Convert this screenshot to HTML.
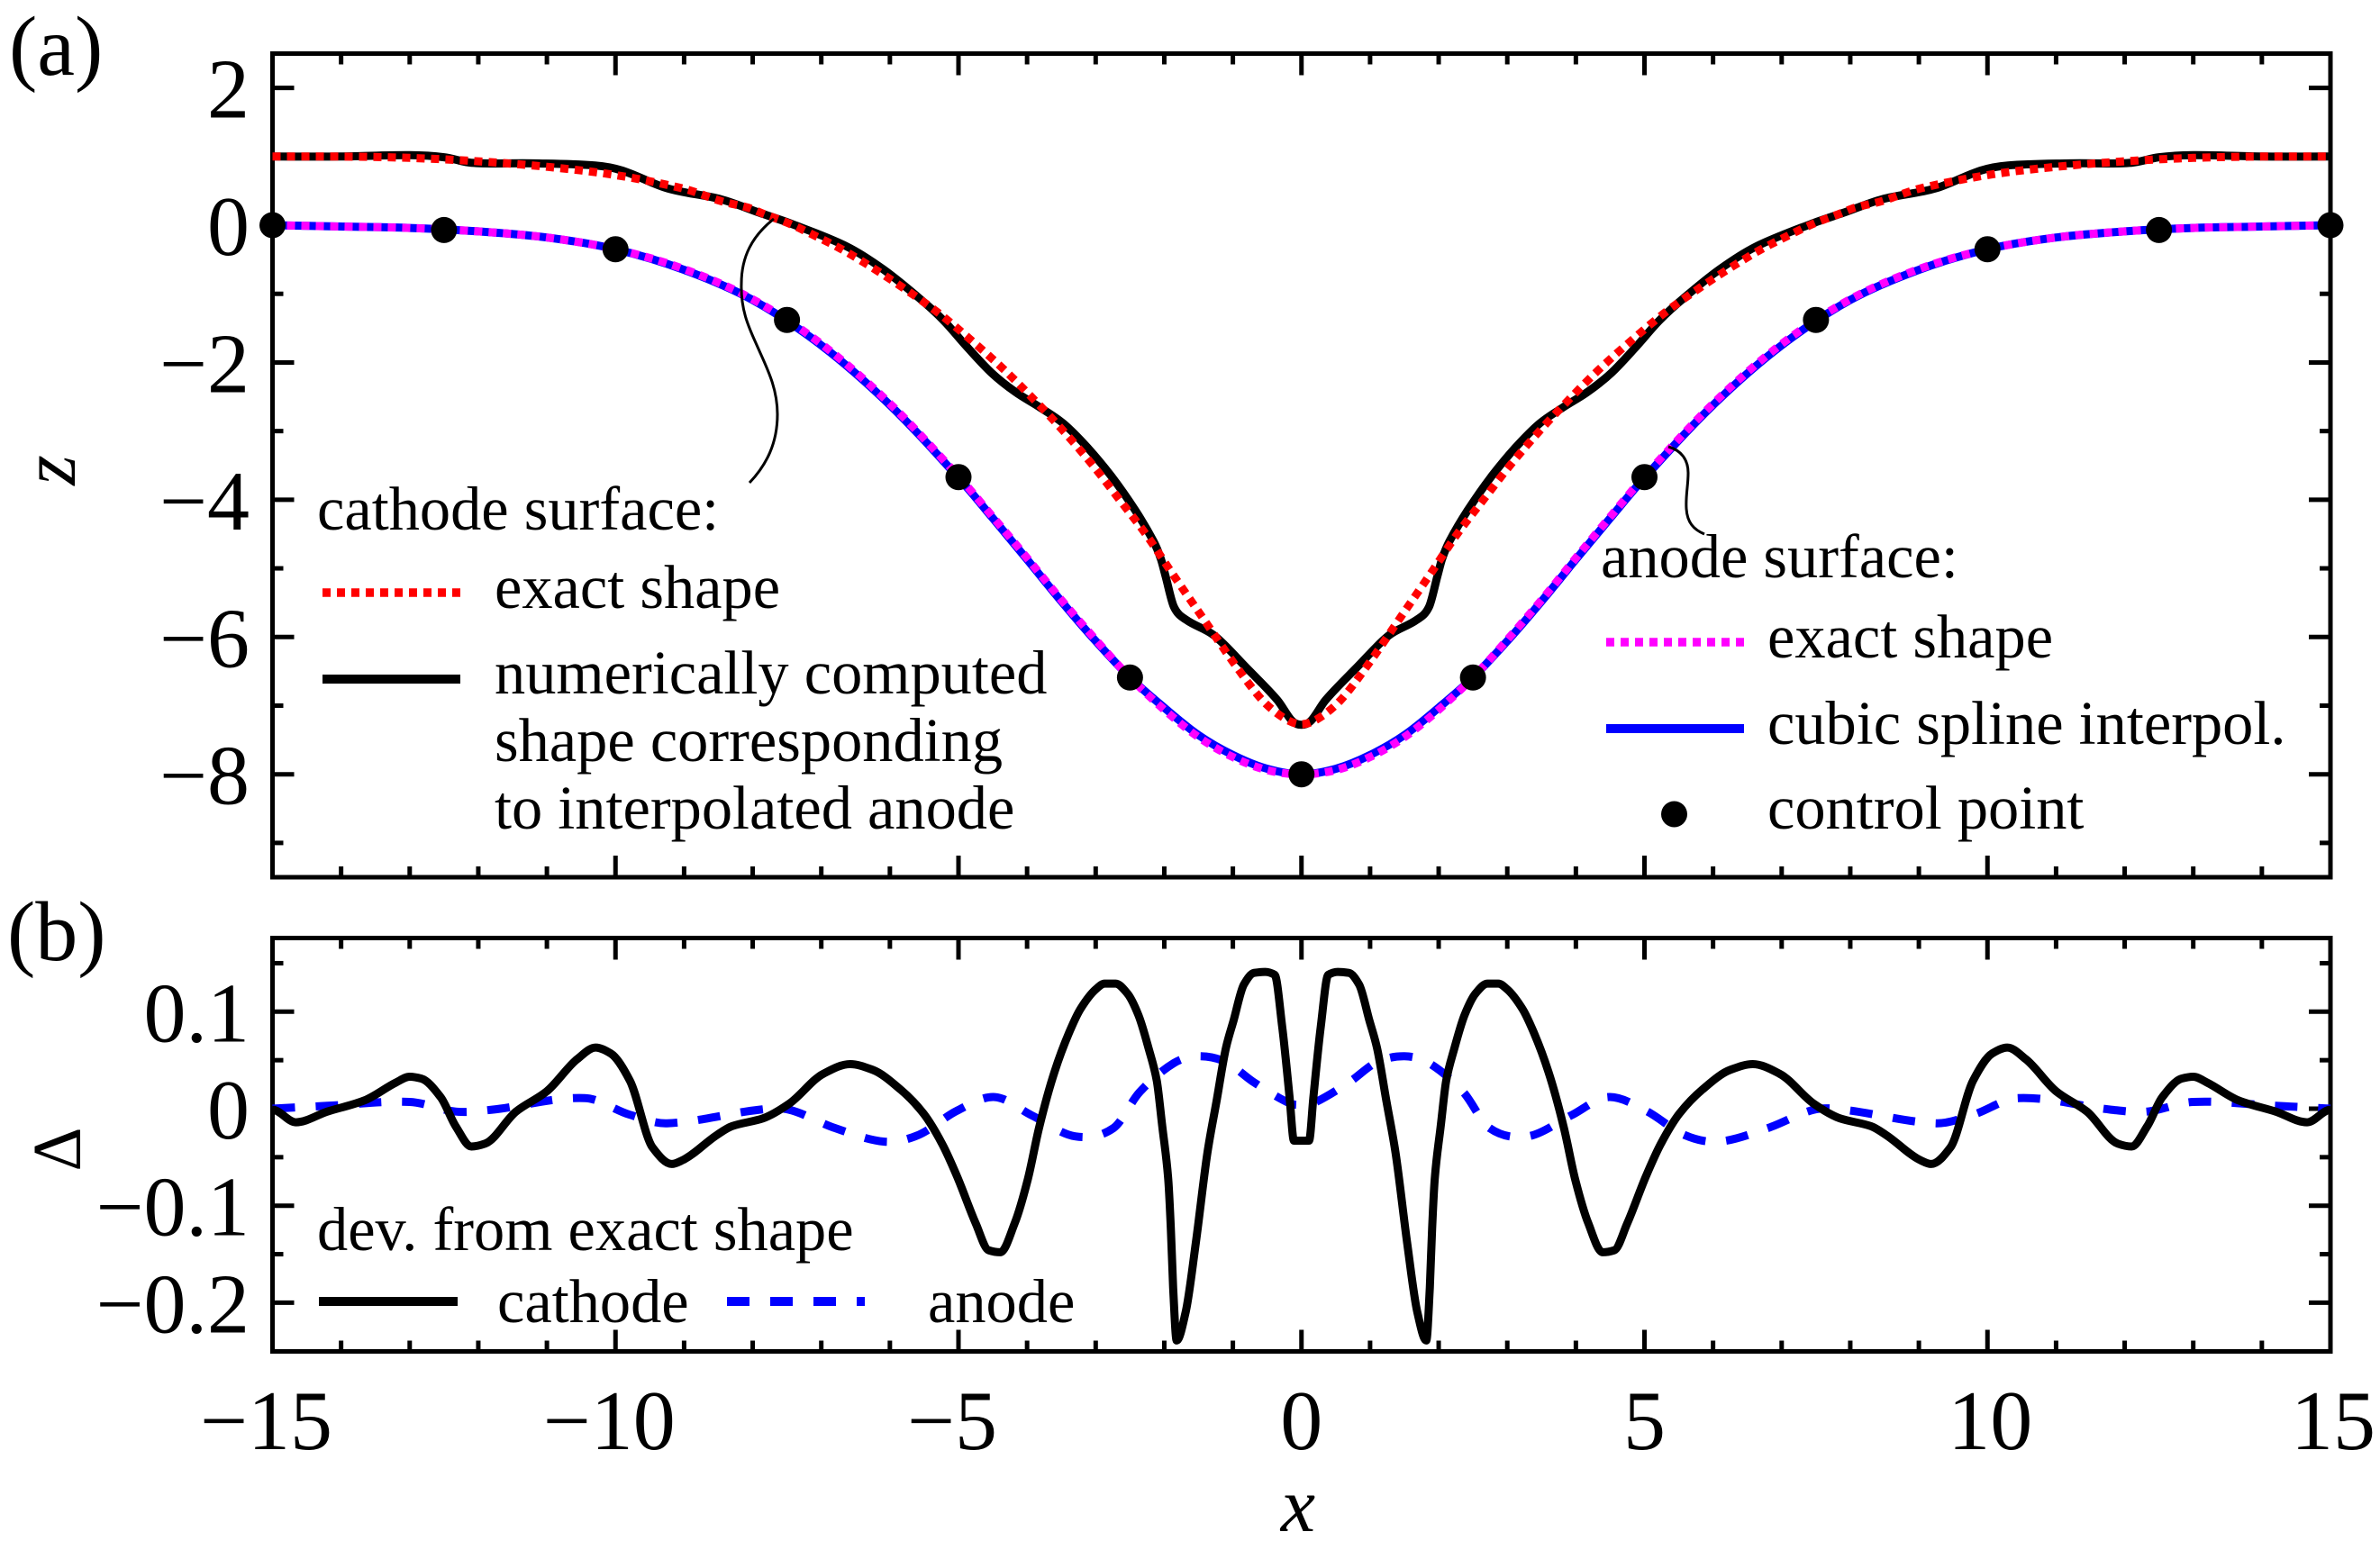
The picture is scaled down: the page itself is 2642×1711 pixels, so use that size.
<!DOCTYPE html>
<html lang="en">
<head>
<meta charset="utf-8">
<title>Cathode and anode surface shapes</title>
<style>
html,body{margin:0;padding:0;background:#fff;}
svg{display:block;}
text{font-family:"Liberation Serif","Times New Roman",serif;fill:#000;}
.tick{font-size:94px;}
.leg{font-size:68.4px;}
.panel{font-size:94px;}
.ital{font-style:italic;font-size:86px;}
</style>
</head>
<body>
<svg id="figure" xmlns="http://www.w3.org/2000/svg" width="2642" height="1711" viewBox="0 0 2642 1711">
  <rect width="2642" height="1711" fill="#fff"/>
  <g id="panelA"></g>
  <g id="panelB"></g>

  <text class="panel" x="10" y="83">(a)</text>
  <text class="panel" x="8" y="1066">(b)</text>
  <text class="ital" transform="translate(83,522) rotate(-90)" text-anchor="middle">z</text>
  <text transform="translate(89,1276) rotate(-90)" text-anchor="middle" style="font-size:76px">Δ</text>
  <text class="ital" x="1441" y="1700" text-anchor="middle">x</text>

  <path d="M859,243 C835,262 823,285 823,315 C822,345 832,365 840,383 C851,408 863,430 863,460 C863,492 851,516 832,536" fill="none" stroke="#000" stroke-width="3"/>
  <path d="M1852,496 C1866,500 1874,510 1874,525 C1874,540 1871,550 1872,565 C1873,580 1880,588 1892,593" fill="none" stroke="#000" stroke-width="3"/>

  <g>
    <text class="leg" x="352" y="588">cathode surface:</text>
    <line x1="358" x2="511" y1="658" y2="658" stroke="#f00" stroke-width="9.5" stroke-dasharray="9 7"/>
    <text class="leg" x="549" y="675">exact shape</text>
    <line x1="358" x2="511" y1="754" y2="754" stroke="#000" stroke-width="10"/>
    <text class="leg" x="549" y="770">numerically computed</text>
    <text class="leg" x="549" y="845">shape corresponding</text>
    <text class="leg" x="549" y="920">to interpolated anode</text>
  </g>

  <g>
    <text class="leg" x="1777" y="641">anode surface:</text>
    <line x1="1783" x2="1936" y1="713" y2="713" stroke="#f0f" stroke-width="9.5" stroke-dasharray="9 7"/>
    <text class="leg" x="1962" y="730">exact shape</text>
    <line x1="1783" x2="1936" y1="809" y2="809" stroke="#00f" stroke-width="10"/>
    <text class="leg" x="1962" y="826">cubic spline interpol.</text>
    <circle cx="1858.5" cy="904" r="14.5" fill="#000"/>
    <text class="leg" x="1962" y="920">control point</text>
  </g>

  <g>
    <text class="leg" x="352" y="1388">dev. from exact shape</text>
    <line x1="354" x2="508" y1="1445" y2="1445" stroke="#000" stroke-width="10"/>
    <text class="leg" x="552" y="1468">cathode</text>
    <line x1="807" x2="960" y1="1445" y2="1445" stroke="#00f" stroke-width="10" stroke-dasharray="25 23"/>
    <text class="leg" x="1030" y="1468">anode</text>
  </g>
</svg>

<script>
// ----- tick data -----
const xMajorTicks = [-15, -10, -5, 0, 5, 10, 15];
const xTickLabels = ["\u221215", "\u221210", "\u22125", "0", "5", "10", "15"];
const xMinorTicks = [-14,-13,-12,-11,-9,-8,-7,-6,-4,-3,-2,-1,1,2,3,4,6,7,8,9,11,12,13,14];
const zMajorTicks = [2, 0, -2, -4, -6, -8];
const zTickLabels = ["2", "0", "\u22122", "\u22124", "\u22126", "\u22128"];
const zMinorTicks = [1, -1, -3, -5, -7, -9];
const deltaMajorTicks = [0.1, 0, -0.1, -0.2];
const deltaTickLabels = ["0.1", "0", "\u22120.1", "\u22120.2"];
const deltaMinorTicks = [0.15, 0.05, -0.05, -0.15];

// ----- panel (a): anode surface -----
const anodeX = [-15,-14,-13,-12,-11,-10,-9,-8,-7,-6,-5,-4.5,-4,-3.5,-3,-2.5,-2,-1.5,-1,-0.5,0,0.5,1,1.5,2,2.5,3,3.5,4,4.5,5,6,7,8,9,10,11,12,13,14,15];
const anodeExactZ = [0,-0.02,-0.04,-0.09,-0.18,-0.35,-0.64,-1.08,-1.73,-2.60,-3.66,-4.25,-4.85,-5.46,-6.04,-6.59,-7.06,-7.46,-7.75,-7.94,-8,-7.94,-7.75,-7.46,-7.06,-6.59,-6.04,-5.46,-4.85,-4.25,-3.66,-2.60,-1.73,-1.08,-0.64,-0.35,-0.18,-0.09,-0.04,-0.02,0];
const anodeSplineZ = [0,-0.02,-0.04,-0.09,-0.18,-0.35,-0.65,-1.09,-1.75,-2.62,-3.68,-4.27,-4.87,-5.48,-6.06,-6.59,-7.03,-7.43,-7.72,-7.92,-8,-7.92,-7.72,-7.43,-7.03,-6.59,-6.06,-5.48,-4.87,-4.27,-3.68,-2.62,-1.75,-1.09,-0.65,-0.35,-0.18,-0.09,-0.04,-0.02,0];
const controlX = [-15,-12.5,-10,-7.5,-5,-2.5,0,2.5,5,7.5,10,12.5,15];
const controlZ = [0,-0.07,-0.35,-1.38,-3.67,-6.59,-8,-6.59,-3.67,-1.38,-0.35,-0.07,0];

// ----- panel (a): cathode surface -----
const cathodeExactX = [-15,-14,-13,-12,-11,-10,-9,-8.46,-8.07,-7.85,-7.46,-7.08,-6.71,-6.34,-5.81,-5.29,-4.81,-4.33,-3.89,-3.45,-3.04,-2.66,-2.27,-1.92,-1.44,-0.965,-0.57,-0.24,0,0.24,0.57,0.965,1.44,1.92,2.27,2.66,3.04,3.45,3.89,4.33,4.81,5.29,5.81,6.34,6.71,7.08,7.46,7.85,8.07,8.46,9,10,11,12,13,14,15];
const cathodeExactZ = [1,1,0.98,0.93,0.85,0.73,0.53,0.35,0.256,0.168,0.02,-0.16,-0.348,-0.567,-0.91,-1.28,-1.68,-2.11,-2.55,-3.02,-3.5,-3.99,-4.5,-5.02,-5.72,-6.41,-6.92,-7.19,-7.27,-7.19,-6.92,-6.41,-5.72,-5.02,-4.5,-3.99,-3.5,-3.02,-2.55,-2.11,-1.68,-1.28,-0.91,-0.567,-0.348,-0.16,0.02,0.168,0.256,0.35,0.53,0.73,0.85,0.93,0.98,1,1];
const cathodeNumericX = [-15,-14,-13,-12.5,-12.1,-11.2,-10.3,-9.9,-9.24,-8.46,-7.9,-7.42,-6.63,-6.1,-5.58,-5.22,-4.87,-4.52,-4.17,-3.82,-3.47,-3.12,-2.77,-2.42,-2.16,-2.05,-1.98,-1.86,-1.68,-1.27,-0.81,-0.35,-0.14,0,0.14,0.35,0.81,1.27,1.68,1.86,1.98,2.05,2.16,2.42,2.77,3.12,3.47,3.82,4.17,4.52,4.87,5.22,5.58,6.1,6.63,7.42,7.9,8.46,9.24,9.9,10.3,11.2,12.1,12.5,13,14,15];
const cathodeNumericZ = [1,1,1.02,0.99,0.91,0.90,0.87,0.795,0.535,0.377,0.18,0.015,-0.31,-0.64,-1.056,-1.385,-1.78,-2.15,-2.43,-2.65,-2.89,-3.24,-3.66,-4.16,-4.6,-4.86,-5.12,-5.56,-5.75,-5.98,-6.44,-6.92,-7.22,-7.28,-7.22,-6.92,-6.44,-5.98,-5.75,-5.56,-5.12,-4.86,-4.6,-4.16,-3.66,-3.24,-2.89,-2.65,-2.43,-2.15,-1.78,-1.385,-1.056,-0.64,-0.31,0.015,0.18,0.377,0.535,0.795,0.87,0.90,0.91,0.99,1.02,1,1];

// ----- panel (b): deviations -----
const deltaCathodeX = [-15,-14.66,-14.2,-13.66,-13.2,-13,-12.83,-12.55,-12.33,-12.1,-11.9,-11.45,-11,-10.56,-10.29,-10.07,-9.79,-9.46,-9.18,-9.02,-8.52,-8.3,-7.85,-7.47,-6.97,-6.58,-6.25,-5.84,-5.51,-5.24,-5.02,-4.75,-4.56,-4.39,-4.18,-3.99,-3.82,-3.6,-3.39,-3.22,-3,-2.87,-2.71,-2.54,-2.38,-2.22,-2.11,-2.03,-1.945,-1.905,-1.87,-1.82,-1.69,-1.54,-1.37,-1.24,-1.1,-0.99,-0.84,-0.69,-0.53,-0.39,-0.28,-0.175,-0.11,0,0.11,0.175,0.28,0.39,0.53,0.69,0.84,0.99,1.1,1.24,1.37,1.54,1.69,1.82,1.87,1.905,1.945,2.03,2.11,2.22,2.38,2.54,2.71,2.87,3,3.22,3.39,3.6,3.82,3.99,4.18,4.39,4.56,4.75,5.02,5.24,5.51,5.84,6.25,6.58,6.97,7.47,7.85,8.3,8.52,9.02,9.18,9.46,9.79,10.07,10.29,10.56,11,11.45,11.9,12.1,12.33,12.55,12.83,13,13.2,13.66,14.2,14.66,15];
const deltaCathodeValues = [-0.001,-0.014,-0.003,0.0085,0.027,0.033,0.031,0.012,-0.018,-0.039,-0.036,-0.003,0.018,0.051,0.063,0.057,0.029,-0.04,-0.057,-0.053,-0.027,-0.018,-0.01,0.005,0.036,0.046,0.04,0.0195,-0.005,-0.036,-0.07,-0.118,-0.146,-0.148,-0.118,-0.073,-0.018,0.038,0.078,0.103,0.123,0.129,0.129,0.119,0.097,0.06,0.029,-0.018,-0.07,-0.123,-0.185,-0.239,-0.21,-0.138,-0.045,0.007,0.063,0.091,0.128,0.14,0.141,0.138,0.084,0.013,-0.033,-0.033,-0.033,0.013,0.084,0.138,0.141,0.14,0.128,0.091,0.063,0.007,-0.045,-0.138,-0.21,-0.239,-0.185,-0.123,-0.07,-0.018,0.029,0.06,0.097,0.119,0.129,0.129,0.123,0.103,0.078,0.038,-0.018,-0.073,-0.118,-0.148,-0.146,-0.118,-0.07,-0.036,-0.005,0.0195,0.04,0.046,0.036,0.005,-0.01,-0.018,-0.027,-0.053,-0.057,-0.04,0.029,0.057,0.063,0.051,0.018,-0.003,-0.036,-0.039,-0.018,0.012,0.031,0.033,0.027,0.0085,-0.003,-0.014,-0.001];
const deltaAnodeX = [-15,-14.2,-13,-12.33,-11.8,-10.45,-9.8,-9.25,-7.9,-7.47,-6.8,-6.08,-5.58,-5.02,-4.47,-3.93,-3.3,-2.74,-2.36,-1.86,-1.5,-1.1,-0.69,-0.17,0,0.17,0.69,1.1,1.5,1.86,2.36,2.74,3.3,3.93,4.47,5.02,5.58,6.08,6.8,7.47,7.9,9.25,9.8,10.45,11.8,12.33,13,14.2,15];
const deltaAnodeValues = [0,0.003,0.007,-0.003,-0.001,0.011,-0.006,-0.015,-0.001,-0.001,-0.02,-0.034,-0.027,-0.002,0.012,-0.007,-0.0285,-0.02,0.017,0.047,0.054,0.048,0.027,0.0055,0.004,0.0055,0.027,0.048,0.054,0.047,0.017,-0.02,-0.0285,-0.007,0.012,-0.002,-0.027,-0.034,-0.02,-0.001,-0.001,-0.015,-0.006,0.011,-0.001,-0.003,0.007,0.003,0];

// ----- axis functions -----
const AX_LEFT = 302.5, AX_RIGHT = 2587;
const A_TOP = 59.5, A_BOTTOM = 974;
const B_TOP = 1041.5, B_BOTTOM = 1500.5;
const sx = x => AX_LEFT + (x + 15) * (AX_RIGHT - AX_LEFT) / 30;
const sz = z => A_TOP + (2.5 - z) * (A_BOTTOM - A_TOP) / 12;
const sd = d => 1231 - d * 1077;

const NS = "http://www.w3.org/2000/svg";
const panelA = document.getElementById("panelA");
const panelB = document.getElementById("panelB");

function mk(tag, parent, attrs) {
  const el = document.createElementNS(NS, tag);
  for (const k in attrs) el.setAttribute(k, attrs[k]);
  parent.appendChild(el);
  return el;
}

function bezierThrough(px, py, slope) {
  let d = "M" + px[0].toFixed(1) + "," + py[0].toFixed(1);
  for (let i = 0; i < px.length - 1; i++) {
    const dx = (px[i + 1] - px[i]) / 3;
    d += " C" + (px[i] + dx).toFixed(1) + "," + (py[i] + slope(i) * dx).toFixed(1) +
         " " + (px[i + 1] - dx).toFixed(1) + "," + (py[i + 1] - slope(i + 1) * dx).toFixed(1) +
         " " + px[i + 1].toFixed(1) + "," + py[i + 1].toFixed(1);
  }
  return d;
}

// Hermite curve through the samples
function smoothPath(xs, ys, fy) {
  const px = xs.map(sx), py = ys.map(fy);
  const n = px.length;
  return bezierThrough(px, py, i => {
    const a = Math.max(i - 1, 0), b = Math.min(i + 1, n - 1);
    return (py[b] - py[a]) / (px[b] - px[a]);
  });
}

// Monotone Hermite: no overshoot at narrow peaks or the flat centre
function monotonePath(xs, ys, fy) {
  const px = xs.map(sx), py = ys.map(fy);
  const n = px.length;
  return bezierThrough(px, py, i => {
    if (i === 0 || i === n - 1) return 0;
    const s0 = (py[i] - py[i - 1]) / (px[i] - px[i - 1]);
    const s1 = (py[i + 1] - py[i]) / (px[i + 1] - px[i]);
    if (s0 * s1 <= 0) return 0;
    return 2 * s0 * s1 / (s0 + s1);
  });
}

function drawFrame(parent, top, bottom, fy, yMajor, yMinor, yLabels, prefix) {
  xMajorTicks.forEach(v => {
    const t1 = mk("line", parent, {x1: sx(v), x2: sx(v), y1: top, y2: top + 24, stroke: "#000", "stroke-width": 5});
    
    
    const t2 = mk("line", parent, {x1: sx(v), x2: sx(v), y1: bottom - 24, y2: bottom, stroke: "#000", "stroke-width": 5});
    
    
  });
  xMinorTicks.forEach(v => {
    const t1 = mk("line", parent, {x1: sx(v), x2: sx(v), y1: top, y2: top + 12, stroke: "#000", "stroke-width": 5});
    
    
    const t2 = mk("line", parent, {x1: sx(v), x2: sx(v), y1: bottom - 12, y2: bottom, stroke: "#000", "stroke-width": 5});
    
    
  });
  yMajor.forEach((v, i) => {
    const t1 = mk("line", parent, {x1: AX_LEFT, x2: AX_LEFT + 24, y1: fy(v), y2: fy(v), stroke: "#000", "stroke-width": 5});
    
    
    const t2 = mk("line", parent, {x1: AX_RIGHT - 24, x2: AX_RIGHT, y1: fy(v), y2: fy(v), stroke: "#000", "stroke-width": 5});
    
    
    const lab = mk("text", parent, {x: 277, y: fy(v) + 33, "text-anchor": "end", class: "tick"});
    
    
    lab.textContent = yLabels[i];
  });
  yMinor.forEach(v => {
    const t1 = mk("line", parent, {x1: AX_LEFT, x2: AX_LEFT + 12, y1: fy(v), y2: fy(v), stroke: "#000", "stroke-width": 5});
    
    
    const t2 = mk("line", parent, {x1: AX_RIGHT - 12, x2: AX_RIGHT, y1: fy(v), y2: fy(v), stroke: "#000", "stroke-width": 5});
    
    
  });
  const box = mk("rect", parent, {x: AX_LEFT, y: top, width: AX_RIGHT - AX_LEFT, height: bottom - top, fill: "none", stroke: "#000", "stroke-width": 5});
  
  
}

drawFrame(panelA, A_TOP, A_BOTTOM, sz, zMajorTicks, zMinorTicks, zTickLabels, 'panel-a');
drawFrame(panelB, B_TOP, B_BOTTOM, sd, deltaMajorTicks, deltaMinorTicks, deltaTickLabels, 'panel-b');

// shared x tick labels below panel (b)
xMajorTicks.forEach((v, i) => {
  const shift = v < 0 ? -7 : (v >= 10 ? 3 : 0);
  const lab = mk("text", panelB, {x: sx(v) + shift, y: 1609, "text-anchor": "middle", class: "tick"});
  
  
  lab.textContent = xTickLabels[i];
});

// series, panel (a)
const anodeSplineLine = mk("path", panelA, {d: smoothPath(anodeX, anodeSplineZ, sz), fill: "none", stroke: "#00f", "stroke-width": 9, "stroke-linejoin": "round"});


const anodeExactLine = mk("path", panelA, {d: smoothPath(anodeX, anodeExactZ, sz), fill: "none", stroke: "#f0f", "stroke-width": 9, "stroke-dasharray": "9 7"});


const cathodeNumericLine = mk("path", panelA, {d: smoothPath(cathodeNumericX, cathodeNumericZ, sz), fill: "none", stroke: "#000", "stroke-width": 9, "stroke-linejoin": "round"});


const cathodeExactLine = mk("path", panelA, {d: smoothPath(cathodeExactX, cathodeExactZ, sz), fill: "none", stroke: "#f00", "stroke-width": 9, "stroke-dasharray": "9 7"});


controlX.forEach((x, i) => {
  const dot = mk("circle", panelA, {cx: sx(x), cy: sz(controlZ[i]), r: 14.5, fill: "#000"});
  
  
});

// series, panel (b)
const deltaAnodeLine = mk("path", panelB, {d: smoothPath(deltaAnodeX, deltaAnodeValues, sd), fill: "none", stroke: "#00f", "stroke-width": 9, "stroke-dasharray": "25 23"});


const deltaCathodeLine = mk("path", panelB, {d: monotonePath(deltaCathodeX, deltaCathodeValues, sd), fill: "none", stroke: "#000", "stroke-width": 9, "stroke-linejoin": "round"});


</script>
</body>
</html>
